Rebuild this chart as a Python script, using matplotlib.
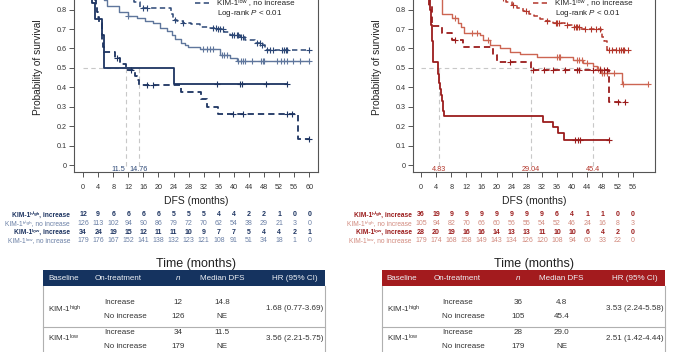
import numpy as np
import matplotlib
matplotlib.use("Agg")
import matplotlib.pyplot as plt
from matplotlib.lines import Line2D
from matplotlib.patches import Rectangle
from matplotlib.transforms import blended_transform_factory

plt.rcParams["font.family"] = ["Liberation Sans", "DejaVu Sans"]
plt.rcParams["mathtext.fontset"] = "custom"
plt.rcParams["mathtext.rm"] = "Liberation Sans"
plt.rcParams["mathtext.it"] = "Liberation Sans:italic"
plt.rcParams["mathtext.bf"] = "Liberation Sans:bold"

W, H = 673, 352

# ---------------- data: left panel (blue) ----------------
l_hi_inc_t = [0, 1.2, 2.4, 3.2, 4.9, 5.6, 24.0]
l_hi_inc_s = [1.0, 0.917, 0.833, 0.75, 0.667, 0.5, 0.417]
l_hi_inc_c = [35.6, 41.6, 42.1, 48.4, 54.2]

l_hi_no_t = [0, 1.0, 2.0, 3.0, 4.0, 5.0, 5.6, 6.3, 9.4, 12.0, 14.2, 16.5, 18.6, 20.4,
             22.2, 23.5, 24.4, 26.0, 27.0, 27.9, 31.0, 36.2, 38.9, 40.7]
l_hi_no_s = [1.0, 0.98, 0.96, 0.94, 0.91, 0.88, 0.85, 0.82, 0.79, 0.765, 0.755, 0.74,
             0.73, 0.705, 0.69, 0.67, 0.648, 0.63, 0.62, 0.61, 0.596, 0.567, 0.55, 0.533]
l_hi_no_c = [12.0, 31.9, 32.8, 33.6, 34.5, 36.8, 37.5, 38.2, 41.2, 41.8, 42.3, 43.0,
             44.8, 47.2, 47.6, 48.0, 51.5, 52.6, 53.2, 54.0, 55.8, 57.5, 59.8]

l_lo_inc_t = [0, 0.8, 1.5, 2.2, 2.8, 3.2, 3.5, 3.8, 4.0, 4.3, 4.9, 5.1, 5.3, 5.6, 8.6,
              9.8, 11.5, 13.8, 14.3, 14.76, 26.1, 31.4, 32.8, 35.8, 57.0]
l_lo_inc_s = [1.0, 0.97, 0.94, 0.91, 0.88, 0.85, 0.82, 0.79, 0.76, 0.73, 0.67, 0.64,
              0.61, 0.58, 0.55, 0.52, 0.49, 0.46, 0.44, 0.413, 0.375, 0.34, 0.30, 0.263, 0.132]
l_lo_inc_c = [8.9, 12.7, 16.9, 18.6, 39.8, 42.5, 54.2, 55.5, 59.8]

l_lo_no_t = [0, 1.5, 3.0, 4.5, 6.0, 7.5, 9.0, 10.5, 12.0, 13.5, 15.1, 23.3, 23.8, 25.0,
             26.6, 28.5, 31.0, 33.0, 35.4, 37.5, 38.9, 41.6, 42.9, 45.6, 47.0, 48.2]
l_lo_no_s = [1.0, 0.985, 0.97, 0.955, 0.94, 0.92, 0.90, 0.88, 0.86, 0.84, 0.808, 0.775,
             0.747, 0.74, 0.733, 0.725, 0.713, 0.705, 0.70, 0.685, 0.67, 0.66, 0.645, 0.63,
             0.62, 0.593]
l_lo_no_c = [16.0, 16.9, 24.4, 26.6, 34.5, 35.2, 35.8, 36.4, 37.0, 39.5, 40.0, 40.7,
             41.2, 41.8, 42.5, 46.2, 46.9, 47.5, 48.8, 49.5, 50.3, 52.8, 53.3, 53.8,
             54.2, 59.8]

# ---------------- data: right panel (red) ----------------
r_hi_inc_t = [0, 1.0, 1.5, 2.0, 2.4, 2.7, 2.9, 3.1, 3.3, 4.6, 4.8, 5.0, 5.3, 5.5, 5.8,
              6.1, 32.4, 35.0, 36.3, 37.8]
r_hi_inc_s = [1.0, 0.97, 0.92, 0.86, 0.80, 0.72, 0.64, 0.58, 0.53, 0.47, 0.42, 0.39,
              0.36, 0.33, 0.28, 0.25, 0.222, 0.194, 0.166, 0.13]
r_hi_inc_c = [40.7, 41.4, 42.1, 49.8]

r_hi_no_t = [0, 1.0, 2.0, 3.0, 4.0, 5.0, 5.5, 8.1, 9.9, 10.7, 11.4, 15.6, 16.5, 18.3,
             20.9, 23.5, 26.2, 30.6, 40.3, 42.9, 45.6, 46.5, 47.5, 53.1]
r_hi_no_s = [1.0, 0.98, 0.96, 0.94, 0.91, 0.88, 0.78, 0.756, 0.73, 0.713, 0.68, 0.67,
             0.644, 0.618, 0.60, 0.584, 0.572, 0.555, 0.541, 0.527, 0.51, 0.495, 0.475, 0.416]
r_hi_no_c = [9.0, 13.4, 14.7, 17.8, 35.9, 36.4, 36.8, 41.2, 41.9, 42.5, 44.0, 46.9,
             47.4, 47.8, 48.4, 49.3, 51.0, 53.5, 60.1]

r_lo_inc_t = [0, 1.0, 1.6, 2.2, 2.8, 5.5, 8.1, 11.2, 19.0, 20.0, 29.0, 49.6]
r_lo_inc_s = [1.0, 0.964, 0.893, 0.821, 0.714, 0.68, 0.643, 0.607, 0.567, 0.532, 0.49, 0.325]
r_lo_inc_c = [9.0, 23.5, 29.7, 32.5, 35.0, 38.0, 41.2, 41.9, 45.6, 47.4, 48.3, 49.1,
              52.2, 54.0]

r_lo_no_t = [0, 2, 4, 6, 8, 10, 12, 14, 16, 18, 20, 22.5, 24.0, 25.5, 27.0, 28.5, 30.0,
             31.5, 33.0, 35.0, 38.0, 40.3, 42.0, 47.5, 48.0, 48.5, 49.1]
r_lo_no_s = [1.0, 0.99, 0.975, 0.965, 0.95, 0.935, 0.92, 0.905, 0.89, 0.875, 0.86, 0.84,
             0.825, 0.81, 0.795, 0.78, 0.765, 0.752, 0.74, 0.73, 0.72, 0.71, 0.70, 0.68,
             0.66, 0.64, 0.59]
r_lo_no_c = [21.8, 24.4, 27.7, 33.3, 35.6, 36.0, 36.4, 38.5, 40.5, 40.9, 41.3, 41.7,
             43.5, 45.0, 46.2, 47.3, 49.8, 50.5, 51.5, 52.5, 53.0, 53.4, 53.8, 54.8]

# medians marked on the plots
left_medians = [11.5, 14.76]
left_median_labels = ["11.5", "14.76"]
right_medians = [4.83, 29.04, 45.4]
right_median_labels = ["4.83", "29.04", "45.4"]

HIGH = "\u02b0\u2071\u1d4d\u02b0"
LOW = "\u02e1\u1d52\u02b7"

# numbers at risk
group_labels = [f"KIM-1{HIGH}, increase", f"KIM-1{HIGH}, no increase",
                f"KIM-1{LOW}, increase", f"KIM-1{LOW}, no increase"]
legend_labels = [f"KIM-1{HIGH} , increase", f"KIM-1{HIGH} , no increase",
                 f"KIM-1{LOW} , increase", f"KIM-1{LOW} , no increase"]
left_ticks = list(range(0, 61, 4))
left_risk = [
    [12, 9, 6, 6, 6, 6, 5, 5, 5, 4, 4, 2, 2, 1, 0, 0],
    [126, 113, 102, 94, 90, 86, 79, 72, 70, 62, 54, 38, 29, 21, 3, 0],
    [34, 24, 19, 15, 12, 11, 11, 10, 9, 7, 7, 5, 4, 4, 2, 1],
    [179, 176, 167, 152, 141, 138, 132, 123, 121, 108, 91, 51, 34, 18, 1, 0],
]
right_ticks = list(range(0, 57, 4))
right_risk = [
    [36, 19, 9, 9, 9, 9, 9, 9, 9, 6, 4, 1, 1, 0, 0],
    [105, 94, 82, 70, 66, 60, 56, 55, 54, 52, 46, 24, 16, 8, 3],
    [28, 20, 19, 16, 16, 14, 13, 13, 11, 10, 10, 6, 4, 2, 0],
    [179, 174, 168, 158, 149, 143, 134, 126, 120, 108, 94, 60, 33, 22, 0],
]

# summary tables
tbl_baseline = ["KIM-1$^{\\mathrm{high}}$", "KIM-1$^{\\mathrm{low}}$"]
tbl_treat = ["Increase", "No increase"]
left_n = [["12", "126"], ["34", "179"]]
left_med = [["14.8", "NE"], ["11.5", "NE"]]
left_hr = ["1.68 (0.77-3.69)", "3.56 (2.21-5.75)"]
right_n = [["36", "105"], ["28", "179"]]
right_med = [["4.8", "45.4"], ["29.0", "NE"]]
right_hr = ["3.53 (2.24-5.58)", "2.51 (1.42-4.44)"]

BLUE_DARK, BLUE_LIGHT, BLUE_MID = "#1d3461", "#5f769c", "#2b4675"
RED_DARK, RED_LIGHT, RED_MID = "#9b1c1c", "#cc6552", "#b3362b"


def px(x, y):
    return x / W, 1 - y / H


def draw_km(ax, times, surv, censor, color, dashed, lw):
    end = max(times[-1], max(censor))
    t = list(times) + [end]
    s = list(surv) + [surv[-1]]
    ls = (0, (3.5, 2.2)) if dashed else "-"
    ax.step(t, s, where="post", color=color, lw=lw, ls=ls, zorder=3)
    idx = np.searchsorted(times, censor, side="right") - 1
    ax.plot(censor, np.array(surv)[idx], "+", color=color, ms=3.8, mew=0.8, zorder=4)


def panel(fig, left, width, xlim, ticks, curves, colors, medians, med_labels,
          med_color, med_ha, risk, risk_colors, label_x, leg_x):
    b, top = px(0, 172)[1], px(0, -37)[1]
    ax = fig.add_axes([left, b, width, top - b])
    ax.set_xlim(*xlim)
    ax.set_ylim(-0.036, 1.04)
    for sp in ax.spines.values():
        sp.set_color("#555555")
        sp.set_linewidth(0.8)
    ax.set_xticks(ticks)
    ax.set_yticks(np.arange(0, 1.01, 0.1))
    ax.set_yticklabels(["0"] + [f"{v:.1f}" for v in np.arange(0.1, 0.95, 0.1)] + ["1"])
    ax.tick_params(axis="both", direction="out", length=3.5, width=0.7, color="#555555",
                   labelsize=5.2, labelcolor="#333333")
    ax.tick_params(axis="x", pad=5)
    ax.tick_params(axis="y", pad=1.5)
    ax.set_xlabel("DFS (months)", fontsize=7.5, color="#222222", labelpad=4)
    ax.set_ylabel("Probability of survival", fontsize=7.3, color="#222222")
    ax.yaxis.set_label_coords(-0.127, 0.5)

    # median reference lines
    ax.plot([0, max(medians)], [0.5, 0.5], color="#c8c8c8", lw=0.8, ls=(0, (4, 3)), zorder=1)
    for m, lab, ha in zip(medians, med_labels, med_ha):
        ax.plot([m, m], [-0.005, 0.5], color="#c8c8c8", lw=0.8, ls=(0, (4, 3)), zorder=1)
        off = -0.3 if ha == "right" else 0
        ax.text(m + off, -0.021, lab, fontsize=5.2, color=med_color, ha=ha, va="center")

    # curves: high inc, high no, low inc, low no
    widths = [1.3, 1.0, 1.3, 1.1]
    dashed = [False, False, True, True]
    for (t, s, c), col, d, w in zip(curves, colors, dashed, widths):
        draw_km(ax, t, s, c, col, d, w)

    # legend (upper entries fall outside the visible frame)
    ys = [-28.5, -18, -7.5, 3]
    for y, lab, col, d, w in zip(ys, legend_labels, colors, dashed, widths):
        x0, yy = px(leg_x, y)
        x1, _ = px(leg_x + 14, y)
        fig.add_artist(Line2D([x0, x1], [yy, yy], transform=fig.transFigure, color=col,
                              lw=w, ls=(0, (3.5, 2.2)) if d else "-"))
        tx, _ = px(leg_x + 22, y)
        fig.text(tx, yy, lab, fontsize=5.8, color="#222222", va="center")
    tx, ty = px(leg_x + 22, 13.7)
    fig.text(tx, ty, "Log-rank $\\mathit{P}$ < 0.01", fontsize=5.8, color="#222222", va="center")

    # numbers at risk
    tr = blended_transform_factory(ax.transData, fig.transFigure)
    row_y = [215, 223.7, 232, 240.7]
    for row, lab, col, yy, bold in zip(risk, group_labels, risk_colors, row_y,
                                       [True, False, True, False]):
        fy = px(0, yy)[1]
        fw = "bold" if bold else "normal"
        fig.text(px(label_x, 0)[0], fy, lab, fontsize=4.8, color=col, ha="right",
                 va="center", fontweight=fw)
        for tk, v in zip(ticks, row):
            ax.text(tk, fy, str(v), transform=tr, fontsize=5.0, color=col, ha="center",
                    va="center", fontweight=fw)

    cx = left + width / 2
    fig.text(cx, px(0, 264)[1], "Time (months)", fontsize=9, color="#222222",
             ha="center", va="center")
    return ax


def summary_table(fig, x0, x1, hdr_color, cols, n_vals, med_vals, hr_vals):
    # header bar
    bx, by = px(x0, 286)
    bw = (x1 - x0) / W
    bh = 16 / H
    fig.add_artist(Rectangle((bx, by), bw, bh, transform=fig.transFigure,
                             facecolor=hdr_color, edgecolor="none"))
    c_base, c_treat, c_n, c_med, c_hr = cols
    hy = px(0, 278)[1]
    hdr_kw = dict(fontsize=5.8, color="#eef1f5", va="center")
    fig.text(px(c_base, 0)[0], hy, "Baseline", ha="left", **hdr_kw)
    fig.text(px(c_treat, 0)[0], hy, "On-treatment", ha="left", **hdr_kw)
    fig.text(px(c_n, 0)[0], hy, "n", ha="center", fontstyle="italic", **hdr_kw)
    fig.text(px(c_med, 0)[0], hy, "Median DFS", ha="center", **hdr_kw)
    fig.text(px(c_hr, 0)[0], hy, "HR (95% CI)", ha="center", **hdr_kw)

    # borders
    for xx in (x0, x1):
        fig.add_artist(Line2D([xx / W, xx / W], [px(0, 286)[1], px(0, 360)[1]],
                              transform=fig.transFigure, color="#b0b0b0", lw=0.8))
    fig.add_artist(Line2D([x0 / W, x1 / W], [px(0, 326.7)[1]] * 2,
                          transform=fig.transFigure, color="#b0b0b0", lw=0.8))

    kw = dict(fontsize=5.8, color="#333333", va="center")
    group_y = [(302.7, 316.7, 309), (332.7, 347, 338.3)]
    for g, (ya, yb, ym) in enumerate(group_y):
        fig.text(px(c_base, 0)[0], px(0, ym)[1], tbl_baseline[g], ha="left", **kw)
        for k, yy in enumerate((ya, yb)):
            fy = px(0, yy)[1]
            fig.text(px(c_treat + 9, 0)[0], fy, tbl_treat[k], ha="left", **kw)
            fig.text(px(c_n, 0)[0], fy, n_vals[g][k], ha="center", **kw)
            fig.text(px(c_med, 0)[0], fy, med_vals[g][k], ha="center", **kw)
        fig.text(px(c_hr, 0)[0], px(0, ym)[1], hr_vals[g], ha="center", **kw)


fig = plt.figure(figsize=(W / 100, H / 100), dpi=100)
fig.patch.set_facecolor("white")

panel(fig, 74 / W, 244 / W, (-2.4, 62.3), left_ticks,
      [(l_hi_inc_t, l_hi_inc_s, l_hi_inc_c), (l_hi_no_t, l_hi_no_s, l_hi_no_c),
       (l_lo_inc_t, l_lo_inc_s, l_lo_inc_c), (l_lo_no_t, l_lo_no_s, l_lo_no_c)],
      [BLUE_DARK, BLUE_LIGHT, BLUE_DARK, BLUE_MID],
      left_medians, left_median_labels, BLUE_MID, ["right", "center"],
      left_risk, [BLUE_DARK, "#6b80a6", BLUE_DARK, "#6b80a6"], 70, 195)

panel(fig, 412.7 / W, 242.3 / W, (-2.2, 61.9), right_ticks,
      [(r_hi_inc_t, r_hi_inc_s, r_hi_inc_c), (r_hi_no_t, r_hi_no_s, r_hi_no_c),
       (r_lo_inc_t, r_lo_inc_s, r_lo_inc_c), (r_lo_no_t, r_lo_no_s, r_lo_no_c)],
      [RED_DARK, RED_LIGHT, RED_DARK, RED_MID],
      right_medians, right_median_labels, RED_MID, ["center", "center", "center"],
      right_risk, [RED_DARK, "#d28a7e", RED_DARK, "#d28a7e"], 411.7, 533)

summary_table(fig, 43, 325, "#15335f", (48, 95, 178, 222, 295), left_n, left_med, left_hr)
summary_table(fig, 381.7, 665, "#a31b1e", (386.7, 433.3, 518.3, 561.7, 635),
              right_n, right_med, right_hr)

fig.savefig("out.png", dpi=100)
